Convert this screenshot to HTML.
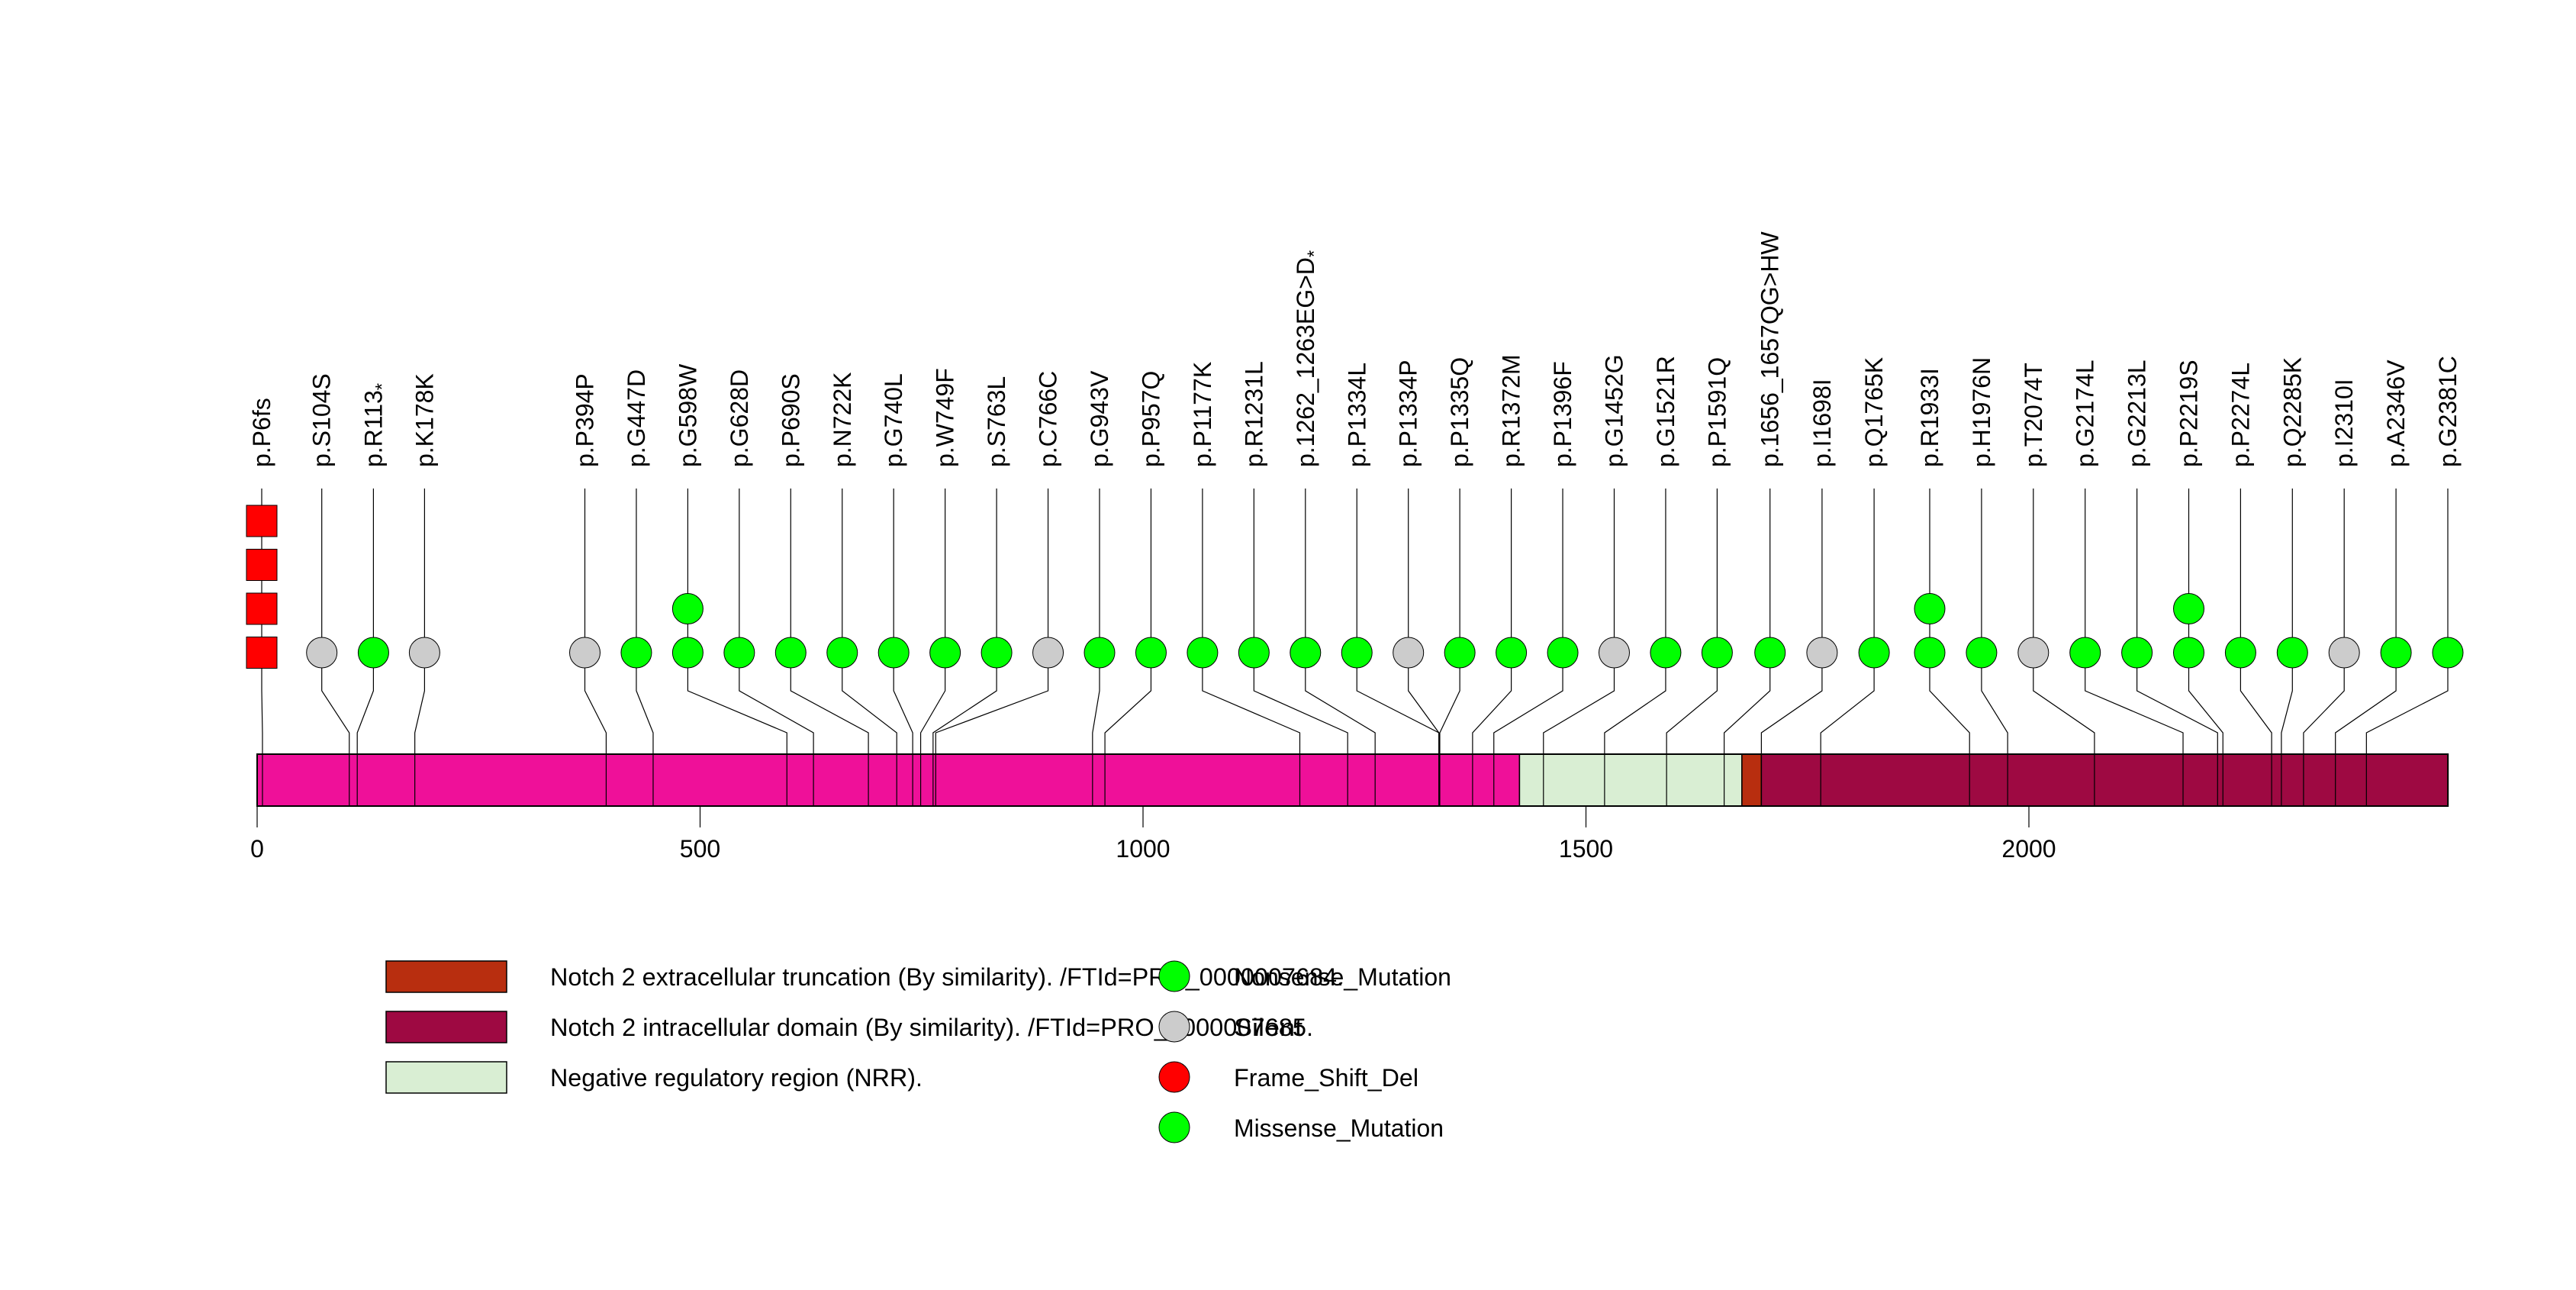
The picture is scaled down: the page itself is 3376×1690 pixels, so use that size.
<!DOCTYPE html>
<html><head><meta charset="utf-8">
<style>
html,body{margin:0;padding:0;background:#fff;}
svg{display:block;font-family:"Liberation Sans",Arial,sans-serif;}
</style></head>
<body>
<svg id="chart" width="3376" height="1690" viewBox="0 0 3376 1690" xmlns="http://www.w3.org/2000/svg">
<rect x="0" y="0" width="3376" height="1690" fill="#ffffff"/>
<g id="domains"></g>
<g id="connectors"></g>
<g id="marks"></g>
<g id="labels"></g>
<g id="axis"></g>
<g id="legend">
  <rect x="506" y="1259" width="158" height="41" fill="#b82e0f" stroke="#000" stroke-width="1.5"/>
  <text x="721" y="1291" font-size="32" textLength="1040" lengthAdjust="spacingAndGlyphs">Notch 2 extracellular truncation (By similarity). /FTId=PRO_0000007684.</text>
  <rect x="506" y="1325" width="158" height="41" fill="#9e0942" stroke="#000" stroke-width="1.5"/>
  <text x="721" y="1357" font-size="32" textLength="1000" lengthAdjust="spacingAndGlyphs">Notch 2 intracellular domain (By similarity). /FTId=PRO_0000007685.</text>
  <rect x="506" y="1391" width="158" height="41" fill="#d9eed3" stroke="#000" stroke-width="1.5"/>
  <text x="721" y="1423" font-size="32" textLength="488" lengthAdjust="spacingAndGlyphs">Negative regulatory region (NRR).</text>
  <ellipse cx="1539" cy="1279" rx="20" ry="20" fill="#00ff00" stroke="#000" stroke-width="1"/>
  <text x="1617" y="1291" font-size="32" textLength="285" lengthAdjust="spacingAndGlyphs">Nonsense_Mutation</text>
  <ellipse cx="1539" cy="1345" rx="20" ry="20" fill="#cccccc" stroke="#000" stroke-width="1"/>
  <text x="1617" y="1357" font-size="32" textLength="90" lengthAdjust="spacingAndGlyphs">Silent</text>
  <ellipse cx="1539" cy="1411" rx="20" ry="20" fill="#ff0000" stroke="#000" stroke-width="1"/>
  <text x="1617" y="1423" font-size="32" textLength="242" lengthAdjust="spacingAndGlyphs">Frame_Shift_Del</text>
  <ellipse cx="1539" cy="1477" rx="20" ry="20" fill="#00ff00" stroke="#000" stroke-width="1"/>
  <text x="1617" y="1489" font-size="32" textLength="275" lengthAdjust="spacingAndGlyphs">Missense_Mutation</text>
</g>
</svg>
<script>
// ---- data ----
const proteinLength = 2473;
const mutLabels = ["p.P6fs","p.S104S","p.R113*","p.K178K","p.P394P","p.G447D","p.G598W","p.G628D","p.P690S","p.N722K","p.G740L","p.W749F","p.S763L","p.C766C","p.G943V","p.P957Q","p.P1177K","p.R1231L","p.1262_1263EG>D*","p.P1334L","p.P1334P","p.P1335Q","p.R1372M","p.P1396F","p.G1452G","p.G1521R","p.P1591Q","p.1656_1657QG>HW","p.I1698I","p.Q1765K","p.R1933I","p.H1976N","p.T2074T","p.G2174L","p.G2213L","p.P2219S","p.P2274L","p.Q2285K","p.I2310I","p.A2346V","p.G2381C"];
const mutPositions = [6,104,113,178,394,447,598,628,690,722,740,749,763,766,943,957,1177,1231,1262,1334,1334,1335,1372,1396,1452,1521,1591,1656,1698,1765,1933,1976,2074,2174,2213,2219,2274,2285,2310,2346,2381];
const mutCounts = [4,1,1,1,1,1,2,1,1,1,1,1,1,1,1,1,1,1,1,1,1,1,1,1,1,1,1,1,1,1,2,1,1,1,1,2,1,1,1,1,1];
const mutTypes = ["F","S","M","S","S","M","M","M","M","M","M","M","M","S","M","M","M","M","M","M","S","M","M","M","S","M","M","M","S","M","M","M","S","M","M","M","M","M","S","M","M"];
const domainStarts = [0,1425,1676,1698];
const domainEnds = [1425,1676,1698,2473];
const domainNames = ["domain-egf-region","domain-nrr","domain-truncation","domain-intracellular"];
const tickValues = [0,500,1000,1500,2000];
// ---- layout (label slot positions, not data) ----
const slotStart = 766.5, slotStep = 67.45;
function slotX(i){
  const early = [343,421.7,489.4,556.4];
  if (i < 4) return early[i];
  if (i <= 26) return slotStart + (i-4)*slotStep;
  if (i <= 29) return 2251.5 + (i-26)*68.2;
  return 2529 + (i-30)*67.9;
}
const X0 = 337, SCALE = 1.161;
function xScale(aa){ return X0 + aa*SCALE; }
const BAR_TOP = 988, BAR_BOT = 1056, STEM_TOP = 640, BASE_Y = 855, STEP_Y = 57.5;
const ELB1 = 905, ELB2 = 960;
const colors = {M:"#00ff00", S:"#cccccc", F:"#ff0000"};
const domainColors = ["#ef1099","#d9eed3","#b82e0f","#9e0942"];
const NS = "http://www.w3.org/2000/svg";
function mk(tag, attrs){ const e=document.createElementNS(NS,tag); for(const k in attrs) e.setAttribute(k,attrs[k]); return e; }

// domains
const gD = document.getElementById('domains');
for (let i=0;i<domainStarts.length;i++){
  const r = mk('rect',{x:xScale(domainStarts[i]),y:BAR_TOP,width:xScale(domainEnds[i])-xScale(domainStarts[i]),height:BAR_BOT-BAR_TOP,fill:domainColors[i],stroke:"#000","stroke-width":1.5});
  
  
  gD.appendChild(r);
}
const outline = mk('rect',{x:xScale(0),y:BAR_TOP,width:xScale(proteinLength)-xScale(0),height:BAR_BOT-BAR_TOP,fill:"none",stroke:"#000","stroke-width":2});


gD.appendChild(outline);

// connectors, marks, labels
const gC = document.getElementById('connectors'), gM = document.getElementById('marks'), gL = document.getElementById('labels');
for (let i=0;i<mutLabels.length;i++){
  const lx = slotX(i), dx = xScale(mutPositions[i]);
  const pl = mk('polyline',{points:`${lx},${STEM_TOP} ${lx},${ELB1} ${dx},${ELB2} ${dx},${BAR_BOT}`,fill:"none",stroke:"#000","stroke-width":1.2});
  
  
  gC.appendChild(pl);
  for (let k=0;k<mutCounts[i];k++){
    const cy = BASE_Y - k*STEP_Y;
    let m;
    if (mutTypes[i]==='F'){
      m = mk('rect',{x:lx-20,y:cy-20.5,width:40,height:41,fill:colors.F,stroke:"#000","stroke-width":1});
    } else {
      m = mk('circle',{cx:lx,cy:cy,r:20,fill:colors[mutTypes[i]],stroke:"#000","stroke-width":1});
    }
    
    
    gM.appendChild(m);
  }
  const t = mk('text',{x:0,y:0,"font-size":32,"text-anchor":"start",transform:`translate(${lx+11},612) rotate(-90)`});
  const lab = mutLabels[i];
  if (lab.endsWith('*')){
    t.appendChild(document.createTextNode(lab.slice(0,-1)));
    const ts = mk('tspan',{"font-size":24,dy:8});
    ts.textContent='*';
    t.appendChild(ts);
  } else t.textContent = lab;
  
  
  gL.appendChild(t);
}

// axis ticks
const gA = document.getElementById('axis');
for (const v of tickValues){
  const x = xScale(v);
  const l = mk('line',{x1:x,y1:BAR_BOT,x2:x,y2:1084,stroke:"#000","stroke-width":1.2});
  
  
  gA.appendChild(l);
  const t = mk('text',{x:x,y:1123,"font-size":32,"text-anchor":"middle"});
  t.textContent = String(v);
  
  
  gA.appendChild(t);
}
</script>
</body></html>
